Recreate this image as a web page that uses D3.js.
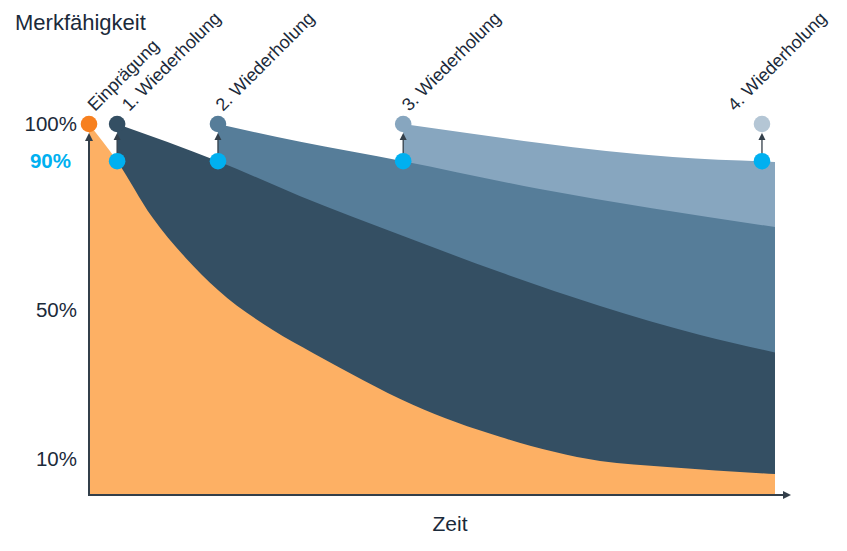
<!DOCTYPE html>
<html><head><meta charset="utf-8">
<script src="https://cdn.jsdelivr.net/npm/d3@7/dist/d3.min.js"></script>
<style>
html,body{margin:0;padding:0;background:#fff;}
svg{display:block;font-family:"Liberation Sans",Arial,sans-serif;}
</style></head>
<body><svg id="chart" width="847" height="551"></svg>
<script>
// ---- data (time in arbitrary units 0..100, retention in %) ----
const yTicks = [100, 90, 50, 10];
const labels = ["Einprägung", "1. Wiederholung", "2. Wiederholung", "3. Wiederholung", "4. Wiederholung"];
const learnTimes = [0, 4.1, 18.8, 45.8, 98.1];
const curveOrange = [[0,100],[4.1,90],[9.2,75],[14,64.2],[18.8,55.4],[26.8,44.6],[32.7,38.4],[39.9,31.2],[47.2,24.5],[59.9,15.9],[74.5,9.4],[84.3,7.8],[100,5.9]];
const curveRep1 = [[4.1,100],[18.8,90],[30.8,80.6],[45.8,69.9],[59.9,60.2],[74.5,51.1],[89.1,43.3],[100,38.6]];
const curveRep2 = [[18.8,100],[30.8,95.2],[45.8,90],[65.7,82.5],[100,72.3]];
const curveRep3 = [[45.8,100],[55.1,97.6],[65.7,94.9],[85.1,91.1],[100,89.8]];

// ---- styles ----
const areaColors = ["#fdb064", "#344f63", "#567d99", "#87a6bf"];
const dotColors = ["#f7801f", "#344f63", "#567d99", "#87a6bf", "#b4c6d5"];
const cyan = "#00b0f0";
const ink = "#1b2a3a";
const axisCol = "#333f4a";

const svg = d3.select("#chart");
const x = d3.scaleLinear().domain([0, 100]).range([89, 775]);
const y = d3.scaleLinear().domain([0, 100]).range([496, 124]);

const area = d3.area().x(d => x(d[0])).y0(y(0)).y1(d => y(d[1])).curve(d3.curveMonotoneX);

// back to front
const layers = [curveRep3, curveRep2, curveRep1, curveOrange];
const layerCols = [areaColors[3], areaColors[2], areaColors[1], areaColors[0]];
svg.append("g").selectAll("path").data(layers).join("path")
  .attr("d", area).attr("fill", (d, i) => layerCols[i]);

// axes
const ax = svg.append("g");
ax.append("line").attr("x1", x(0)).attr("x2", x(0)).attr("y1", y(0)).attr("y2", y(100) + 16)
  .attr("stroke", axisCol).attr("stroke-width", 2);
ax.append("path").attr("d", `M${x(0)-4},${y(100)+17} L${x(0)+4},${y(100)+17} L${x(0)},${y(100)+9} Z`).attr("fill", axisCol);
ax.append("line").attr("x1", x(0) - 1).attr("x2", 784).attr("y1", y(0) - 1).attr("y2", y(0) - 1)
  .attr("stroke", axisCol).attr("stroke-width", 2);
ax.append("path").attr("d", `M783,${y(0)-5} L783,${y(0)+3} L791,${y(0)-1} Z`).attr("fill", axisCol);

// y tick labels via axis
const yAxis = svg.append("g").attr("transform", `translate(${x(0)},0)`)
  .call(d3.axisLeft(y).tickValues(yTicks).tickSize(0).tickPadding(12).tickFormat(d => d + "%"));
yAxis.select(".domain").remove();
yAxis.selectAll("text").attr("font-family", "Liberation Sans, Arial, sans-serif")
  .attr("font-size", 20.5).attr("fill", ink);
yAxis.selectAll("text").filter(d => d === 90)
  .attr("fill", cyan).attr("font-weight", "bold").attr("dx", -6);

// repetition markers: cyan 90% dot, arrow, colored 100% dot
const reps = learnTimes.slice(1);
const mk = svg.append("g");
reps.forEach((t, i) => {
  const cx = x(t);
  mk.append("line").attr("x1", cx).attr("x2", cx).attr("y1", y(90) - 6).attr("y2", y(100) + 14)
    .attr("stroke", axisCol).attr("stroke-width", 1.3);
  mk.append("path").attr("d", `M${cx-3.5},${y(100)+16} L${cx+3.5},${y(100)+16} L${cx},${y(100)+9} Z`).attr("fill", axisCol);
  mk.append("circle").attr("cx", cx).attr("cy", y(90)).attr("r", 8.3).attr("fill", cyan);
});
mk.selectAll("circle.top").data(learnTimes).join("circle").attr("class", "top")
  .attr("cx", d => x(d)).attr("cy", y(100)).attr("r", 8.3).attr("fill", (d, i) => dotColors[i]);

// rotated labels
const labelDx = [6, 12, 5, 6, -27];
svg.append("g").selectAll("text").data(labels).join("text")
  .attr("transform", (d, i) => `translate(${x(learnTimes[i]) + labelDx[i]},${y(100) - 12}) rotate(-45)`)
  .attr("font-size", 18).attr("fill", ink).text(d => d);

// titles
svg.append("text").attr("x", 15).attr("y", 30).attr("font-size", 22).attr("fill", ink).text("Merkfähigkeit");
svg.append("text").attr("x", 450).attr("y", 531).attr("text-anchor", "middle").attr("font-size", 21).attr("fill", ink).text("Zeit");
</script></body></html>
